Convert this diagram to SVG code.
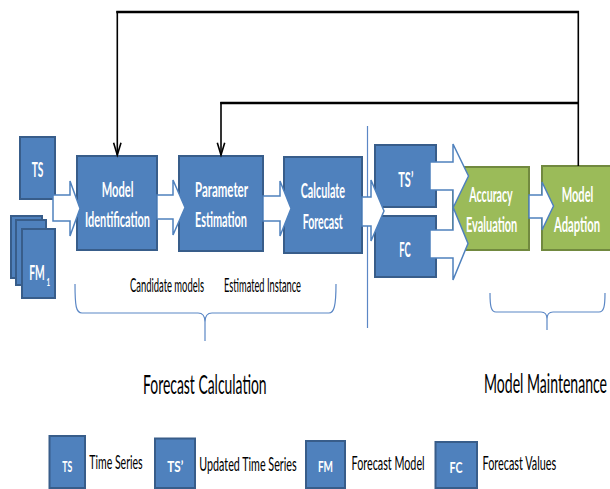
<svg xmlns="http://www.w3.org/2000/svg" width="610" height="489" viewBox="0 0 610 489">
<style>
.blue{fill:#4f81bd;stroke:#385d8a;stroke-width:2}
.green{fill:#9bbb59;stroke:#71893f;stroke-width:2}
.lbl{font-family:Lato,"Liberation Sans",sans-serif;font-weight:bold;font-size:12px;fill:#ffffff}
.sm{font-family:Lato,"Liberation Sans",sans-serif;font-weight:bold;font-size:10px;fill:#ffffff}
.txt{font-family:Lato,"Liberation Sans",sans-serif;font-size:10px;fill:#000000}
.head{font-family:Lato,"Liberation Sans",sans-serif;font-size:13.5px;fill:#000000}
.barrow{fill:#ffffff;stroke:#4f81bd;stroke-width:1.5;stroke-linejoin:miter}
.fb{fill:none;stroke:#000000}
.brace{fill:none;stroke:#5b87c5;stroke-width:1.2}
</style>
<rect width="610" height="489" fill="#ffffff"/>

<g id="annotations">
<line x1="367.5" y1="126" x2="367.5" y2="328" stroke="#5b87c5" stroke-width="1.2"/>
<path class="brace" d="M75,284 C75,306 76,313 82,313 L198,313 C203,313 205,316 205,322 L205,341 M205,322 C205,316 207,313 212,313 L329,313 C334,313 336,306 336,284"/>
<path class="brace" d="M490,293 C490,306 491,312 496,312 L541,312 C545,312 547,314 547,319 L547,330 M547,319 C547,314 549,312 553,312 L599,312 C604,312 605,306 605,293"/>
<text class="txt" transform="translate(130,292) scale(1,2)" textLength="74" lengthAdjust="spacingAndGlyphs">Candidate models</text>
<text class="txt" transform="translate(224,292) scale(1,2)" textLength="77" lengthAdjust="spacingAndGlyphs">Estimated Instance</text>
<text class="head" transform="translate(143,394) scale(1,2)" textLength="123.6" lengthAdjust="spacingAndGlyphs">Forecast Calculation</text>
<text class="head" transform="translate(484,393) scale(1,2)" textLength="123" lengthAdjust="spacingAndGlyphs">Model Maintenance</text>
</g>

<g id="node-ts">
<rect class="blue" x="20" y="137" width="35" height="62"/>
<text class="lbl" transform="translate(31.7,176.5) scale(1,1.6667)" textLength="11.7" lengthAdjust="spacingAndGlyphs">TS</text>
</g>

<g id="node-fm">
<rect class="blue" x="11" y="216" width="31" height="62"/>
<rect class="blue" x="16" y="220" width="30" height="65"/>
<rect class="blue" x="22" y="229" width="33" height="69"/>
<text class="lbl" style="font-size:10.5px" transform="translate(29.3,280) scale(1,1.9)" textLength="15.5" lengthAdjust="spacingAndGlyphs">FM</text>
<text class="lbl" style="font-size:6.5px" transform="translate(46.6,285.5) scale(1,1.8)" textLength="3.6" lengthAdjust="spacingAndGlyphs">1</text>
</g>

<g id="node-model-identification">
<rect class="blue" x="77" y="156" width="80" height="94"/>
<text class="lbl" transform="translate(101.7,196.7) scale(1,1.6667)" textLength="31.7" lengthAdjust="spacingAndGlyphs">Model</text>
<text class="lbl" transform="translate(85,226.7) scale(1,1.6667)" textLength="65" lengthAdjust="spacingAndGlyphs">Identification</text>
</g>

<g id="node-parameter-estimation">
<rect class="blue" x="179" y="156" width="84" height="95"/>
<text class="lbl" transform="translate(195,196.5) scale(1,1.6667)" textLength="53" lengthAdjust="spacingAndGlyphs">Parameter</text>
<text class="lbl" transform="translate(195,226.5) scale(1,1.6667)" textLength="52" lengthAdjust="spacingAndGlyphs">Estimation</text>
</g>

<g id="node-calculate-forecast">
<rect class="blue" x="284" y="157" width="78" height="96"/>
<text class="lbl" transform="translate(300.7,198.3) scale(1,1.6667)" textLength="44.3" lengthAdjust="spacingAndGlyphs">Calculate</text>
<text class="lbl" transform="translate(302.7,229) scale(1,1.6667)" textLength="40" lengthAdjust="spacingAndGlyphs">Forecast</text>
</g>

<g id="node-ts-updated">
<rect class="blue" x="375" y="145" width="61" height="62"/>
<text class="lbl" transform="translate(398.3,186.7) scale(1,1.6667)" textLength="15" lengthAdjust="spacingAndGlyphs">TS’</text>
</g>

<g id="node-fc">
<rect class="blue" x="375" y="216" width="61" height="61"/>
<text class="lbl" transform="translate(399.3,257) scale(1,1.6667)" textLength="11.4" lengthAdjust="spacingAndGlyphs">FC</text>
</g>

<g id="node-accuracy-evaluation">
<rect class="green" x="453" y="167" width="76" height="83"/>
</g>

<g id="node-model-adaption">
<rect class="green" x="542" y="166" width="72" height="84"/>
<text class="lbl" transform="translate(561.7,201.7) scale(1,1.6667)" textLength="31.6" lengthAdjust="spacingAndGlyphs">Model</text>
<text class="lbl" transform="translate(554,231.7) scale(1,1.6667)" textLength="46" lengthAdjust="spacingAndGlyphs">Adaption</text>
</g>

<g id="connectors">
<polygon class="barrow" points="53,195 70,195 70,181 80,208.5 70,236 70,221 53,221"/>
<polygon class="barrow" points="157,195 173,195 173,180 185,207.5 173,235 173,219 157,219"/>
<polygon class="barrow" points="263,196 280,196 280,181 291,208.5 280,236 280,221 263,221"/>
<polygon class="barrow" points="362,197 371,197 371,180 384,211 371,241 371,226 362,226"/>
<polygon class="barrow" points="430,162 453,162 453,144 468.5,176 453,208 453,190 430,190"/>
<polygon class="barrow" points="430,230 453,230 453,207 468,243.5 453,280 453,258 430,258"/>
<polygon class="barrow" points="529,195 542,195 542,182 553.5,206 542,230 542,218 529,218"/>
<path class="fb" stroke-width="2.5" d="M116.3,12 H579"/>
<path class="fb" stroke-width="2.5" d="M220.3,103 H579"/>
<path class="fb" stroke-width="1.6" d="M578.3,11 V166"/>
<path class="fb" stroke-width="1.6" d="M117.3,11 V155"/>
<path class="fb" stroke-width="1.6" d="M221,102 V155"/>
<path class="fb" stroke-width="1.6" d="M113.6,142.7 L117.3,155 L121,142.7"/>
<path class="fb" stroke-width="1.6" d="M217.3,142.7 L221,155 L224.7,142.7"/>
</g>

<g id="labels-accuracy">
<text class="lbl" transform="translate(469.3,201.7) scale(1,1.6667)" textLength="43.4" lengthAdjust="spacingAndGlyphs">Accuracy</text>
<text class="lbl" transform="translate(466,231.7) scale(1,1.6667)" textLength="51.3" lengthAdjust="spacingAndGlyphs">Evaluation</text>
</g>

<g id="legend">
<g id="legend-ts">
<rect class="blue" x="49.5" y="436" width="35.5" height="52"/>
<text class="sm" transform="translate(62.3,472) scale(1,1.6)" textLength="10" lengthAdjust="spacingAndGlyphs">TS</text>
<text class="txt" transform="translate(89.3,469) scale(1,2)" textLength="53.3" lengthAdjust="spacingAndGlyphs">Time Series</text>
</g>
<g id="legend-ts-updated">
<rect class="blue" x="155" y="438.5" width="40" height="49.5"/>
<text class="sm" transform="translate(167.3,472) scale(1,1.6)" textLength="16" lengthAdjust="spacingAndGlyphs">TS’</text>
<text class="txt" transform="translate(199.3,471) scale(1,2)" textLength="97.3" lengthAdjust="spacingAndGlyphs">Updated Time Series</text>
</g>
<g id="legend-fm">
<rect class="blue" x="306" y="441" width="39" height="47"/>
<text class="sm" transform="translate(318,472) scale(1,1.6)" textLength="15" lengthAdjust="spacingAndGlyphs">FM</text>
<text class="txt" transform="translate(351.6,470) scale(1,2)" textLength="73" lengthAdjust="spacingAndGlyphs">Forecast Model</text>
</g>
<g id="legend-fc">
<rect class="blue" x="435.5" y="442" width="41.5" height="46"/>
<text class="sm" transform="translate(449.5,473) scale(1,1.6)" textLength="13" lengthAdjust="spacingAndGlyphs">FC</text>
<text class="txt" transform="translate(482.5,470) scale(1,2)" textLength="73.8" lengthAdjust="spacingAndGlyphs">Forecast Values</text>
</g>
</g>
</svg>
